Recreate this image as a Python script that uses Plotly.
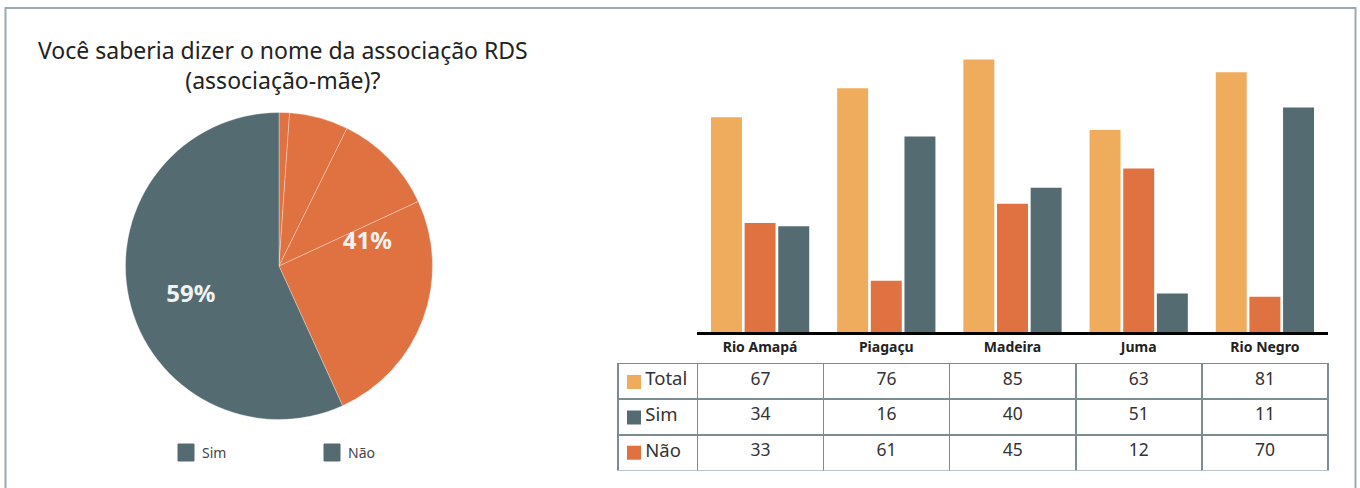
import plotly.graph_objects as go

# ---------------- data ----------------
categories = ["Rio Amapá", "Piagaçu", "Madeira", "Juma", "Rio Negro"]
total = [67, 76, 85, 63, 81]
sim = [34, 16, 40, 51, 11]
nao = [33, 61, 45, 12, 70]
row_labels = ["Total", "Sim", "Não"]
pie_labels = ["Sim", "Não"]
# slice shares as drawn in the pie (four orange segments + grey)
pie_segment_shares = [1.1, 6.2, 10.8, 25.1, 56.8]

title_text = "Você saberia dizer o nome da associação RDS<br>(associação-mãe)?"

# ---------------- styles ----------------
ORANGE_LIGHT = "#F0AC5D"
ORANGE = "#E07141"
GREY = "#546B71"
BORDER = "#9AA9AD"
TABLE_LINE = "#7A8D92"
FONT = "Noto Sans, Open Sans, sans-serif"
W, H = 1360, 488


def px_x(v):
    return v / W


def px_y(v):
    return 1 - v / H


fig = go.Figure()

# ---------------- pie ----------------
pie_domain = dict(x=[px_x(125.5), px_x(432.5)], y=[px_y(419.5), px_y(112.5)])
fig.add_trace(go.Pie(
    values=pie_segment_shares,
    labels=[f"s{i}" for i in range(len(pie_segment_shares))],
    sort=False, direction="clockwise", rotation=0,
    marker=dict(colors=[ORANGE] * 4 + [GREY],
                line=dict(color="rgba(255,255,255,0.45)", width=0.7)),
    textinfo="none", hoverinfo="skip", showlegend=False,
    domain=pie_domain,
))
pie_values = [sum(sim), sum(nao)]
fig.add_trace(go.Pie(
    values=pie_values, labels=pie_labels,
    sort=False, direction="clockwise", rotation=0, hole=0.2,
    marker=dict(colors=["rgba(0,0,0,0)", "rgba(0,0,0,0)"], line=dict(width=0)),
    texttemplate="%{percent:.0%}", textposition="inside",
    insidetextorientation="horizontal",
    textfont=dict(family=FONT, size=24, color="#F2F2F2", weight="bold"),
    hoverinfo="label+percent", showlegend=False,
    domain=pie_domain,
))

# ---------------- bars ----------------
fig.add_trace(go.Bar(x=categories, y=total, name="Total", marker_color=ORANGE_LIGHT,
                     marker_line_width=0))
fig.add_trace(go.Bar(x=categories, y=sim, name="Sim", marker_color=ORANGE,
                     marker_line_width=0))
fig.add_trace(go.Bar(x=categories, y=nao, name="Não", marker_color=GREY,
                     marker_line_width=0))

# ---------------- table ----------------
row_colors = [ORANGE_LIGHT, GREY, ORANGE]
pad = "\u00a0" * 4
rows = [total, sim, nao]
header_row = [pad + row_labels[0]] + [str(v) for v in rows[0]]
body_cols = [[pad + lab for lab in row_labels[1:]]] + \
    [[str(rows[r][c]) for r in range(1, len(rows))] for c in range(len(categories))]
cell_style = dict(align=["left"] + ["center"] * len(categories),
                  fill=dict(color="white"),
                  line=dict(color=TABLE_LINE, width=1.5),
                  font=dict(family=FONT, size=[18.5] + [17.5] * len(categories),
                            color="#333333"),
                  height=35.7)
fig.add_trace(go.Table(
    domain=dict(x=[px_x(618), px_x(1329)], y=[px_y(471), px_y(363.5)]),
    columnwidth=[79] + [125.5] * len(categories),
    header=dict(values=header_row, **cell_style),
    cells=dict(values=body_cols, **cell_style),
))

fig.update_layout(
    width=W, height=H,
    margin=dict(l=0, r=0, t=0, b=0),
    paper_bgcolor="white", plot_bgcolor="white",
    barmode="group", bargap=0.2, bargroupgap=0.08,
    showlegend=False,
    font=dict(family=FONT, color="#333333"),
    xaxis=dict(domain=[px_x(697), px_x(1328)], showline=True, linecolor="black",
               linewidth=3, ticks="", showgrid=False, zeroline=False,
               tickfont=dict(family=FONT, size=14, color="#222222", weight="bold")),
    yaxis=dict(domain=[px_y(332), px_y(45)], range=[0, 89.5], visible=False),
)

# title
fig.add_annotation(text=title_text, x=px_x(283), y=px_y(65), xref="paper", yref="paper",
                   showarrow=False, xanchor="center", yanchor="middle",
                   font=dict(family=FONT, size=23, color="#222222"), align="center")

# outer frame
fig.add_shape(type="rect", xref="paper", yref="paper",
              x0=px_x(5.5), x1=px_x(1355.5), y0=-0.02, y1=px_y(8),
              line=dict(color=BORDER, width=2), fillcolor="rgba(0,0,0,0)")

# legend keys in the table's first column
row_centers = [382, 417.5, 452.7]
for c, yc in zip(row_colors, row_centers):
    fig.add_shape(type="rect", xref="paper", yref="paper",
                  x0=px_x(627), x1=px_x(641), y0=px_y(yc + 7), y1=px_y(yc - 7),
                  line=dict(width=0), fillcolor=c)

# pie legend
for lab, x0 in zip(pie_labels, [178, 324]):
    fig.add_shape(type="rect", xref="paper", yref="paper",
                  x0=px_x(x0), x1=px_x(x0 + 16), y0=px_y(461), y1=px_y(444),
                  line=dict(color=GREY, width=1), fillcolor=GREY)
    fig.add_annotation(text=lab, x=px_x(x0 + 22), y=px_y(452.5), xref="paper", yref="paper",
                       showarrow=False, xanchor="left", yanchor="middle",
                       font=dict(family=FONT, size=14, color="#444444"))

fig.write_html("out.html", config={"displayModeBar": False},
               post_script="document.body.style.margin='0';")
